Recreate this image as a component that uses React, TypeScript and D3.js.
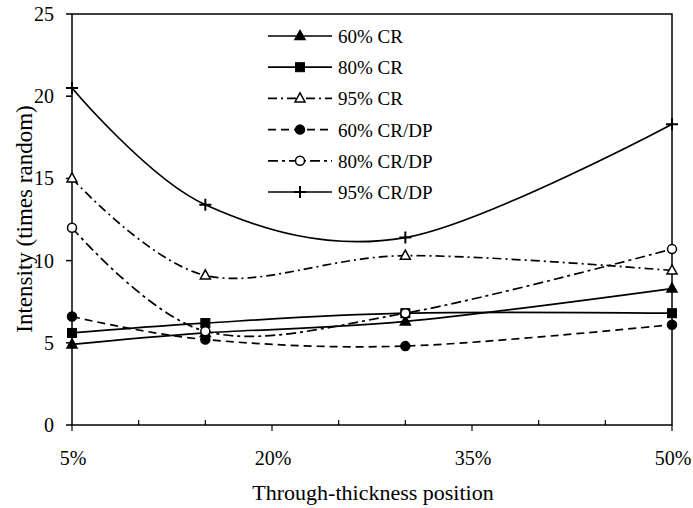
import React, { useEffect, useRef } from "react";
import * as d3 from "d3";

const positions = [5, 15, 30, 50];
const seriesNames = ["60% CR", "80% CR", "95% CR", "60% CR/DP", "80% CR/DP", "95% CR/DP"];
const cr60 = [4.9, 5.6, 6.3, 8.3];
const cr80 = [5.6, 6.2, 6.8, 6.8];
const cr95 = [15.0, 9.1, 10.3, 9.4];
const crdp60 = [6.6, 5.2, 4.8, 6.1];
const crdp80 = [12.0, 5.7, 6.8, 10.7];
const crdp95 = [20.5, 13.4, 11.4, 18.3];
const xTickLabels = [5, 20, 35, 50];
const yTicks = [0, 5, 10, 15, 20, 25];

const allValues = [cr60, cr80, cr95, crdp60, crdp80, crdp95];
// line + marker style per series
const styles = [
  { dash: null, marker: "triangle", fill: "#000" },
  { dash: null, marker: "square", fill: "#000" },
  { dash: "9,4,2,4", marker: "triangle", fill: "#fff" },
  { dash: "8,5", marker: "circle", fill: "#000" },
  { dash: "10,4,3,4", marker: "circle", fill: "#fff" },
  { dash: null, marker: "plus", fill: "none" },
];

function drawMarker(g: any, type: string, fill: string, x: number, y: number) {
  if (type === "triangle") {
    g.append("path")
      .attr("d", `M${x},${y - 5.5}L${x + 5},${y + 3.5}L${x - 5},${y + 3.5}Z`)
      .attr("fill", fill)
      .attr("stroke", "#000")
      .attr("stroke-width", 1.5);
  } else if (type === "square") {
    g.append("rect")
      .attr("x", x - 4.5)
      .attr("y", y - 4.5)
      .attr("width", 9)
      .attr("height", 9)
      .attr("fill", fill)
      .attr("stroke", "#000");
  } else if (type === "circle") {
    g.append("circle")
      .attr("cx", x)
      .attr("cy", y)
      .attr("r", 4.5)
      .attr("fill", fill)
      .attr("stroke", "#000")
      .attr("stroke-width", 1.5);
  } else {
    g.append("path")
      .attr("d", `M${x - 6},${y}H${x + 6}M${x},${y - 6}V${y + 6}`)
      .attr("stroke", "#000")
      .attr("stroke-width", 2);
  }
}

export default function App() {
  const ref = useRef<SVGSVGElement>(null);

  useEffect(() => {
    const svg = d3.select(ref.current);
    svg.selectAll("*").remove();

    const x = d3.scaleLinear().domain([5, 50]).range([72, 672]);
    const y = d3.scaleLinear().domain([0, 25]).range([425, 14]);
    const font = "'Liberation Serif', 'Times New Roman', serif";

    // frame
    svg.append("rect")
      .attr("x", 72)
      .attr("y", 14)
      .attr("width", 600)
      .attr("height", 411)
      .attr("fill", "none")
      .attr("stroke", "#000")
      .attr("stroke-width", 1.5);

    // y axis ticks and labels
    yTicks.forEach((t) => {
      svg.append("line")
        .attr("x1", 66).attr("x2", 72)
        .attr("y1", y(t)).attr("y2", y(t))
        .attr("stroke", "#000").attr("stroke-width", 1.5);
      svg.append("text")
        .attr("x", 54)
        .attr("y", y(t) + 7)
        .attr("text-anchor", "end")
        .style("font-family", font)
        .style("font-size", "20px")
        .text(t);
    });

    // x axis: minor ticks every 5%, labelled ticks extend down
    d3.range(5, 51, 5).forEach((t) => {
      const major = xTickLabels.includes(t);
      svg.append("line")
        .attr("x1", x(t)).attr("x2", x(t))
        .attr("y1", major ? 431 : 420).attr("y2", 425)
        .attr("stroke", "#000").attr("stroke-width", 1.2);
    });
    xTickLabels.forEach((t) => {
      svg.append("text")
        .attr("x", x(t) + 1)
        .attr("y", 465)
        .attr("text-anchor", "middle")
        .style("font-family", font)
        .style("font-size", "20px")
        .text(t + "%");
    });

    svg.append("text")
      .attr("x", 373)
      .attr("y", 500)
      .attr("text-anchor", "middle")
      .style("font-family", font)
      .style("font-size", "22px")
      .text("Through-thickness position");

    svg.append("text")
      .attr("transform", "translate(32,219) rotate(-90)")
      .attr("text-anchor", "middle")
      .style("font-family", font)
      .style("font-size", "23px")
      .text("Intensity (times random)");

    const line = d3.line<number>()
      .x((d, i) => x(positions[i]))
      .y((d) => y(d))
      .curve(d3.curveCardinal.tension(0));

    allValues.forEach((vals, k) => {
      const st = styles[k];
      svg.append("path")
        .attr("d", line(vals))
        .attr("fill", "none")
        .attr("stroke", "#000")
        .attr("stroke-width", 1.7)
        .attr("stroke-dasharray", st.dash);
    });
    allValues.forEach((vals, k) => {
      const st = styles[k];
      const g = svg.append("g");
      vals.forEach((v, i) => drawMarker(g, st.marker, st.fill, x(positions[i]), y(v)));
    });

    // legend
    seriesNames.forEach((name, k) => {
      const st = styles[k];
      const ly = 36 + k * 31.2;
      const g = svg.append("g");
      g.append("line")
        .attr("x1", 268).attr("x2", 332)
        .attr("y1", ly).attr("y2", ly)
        .attr("stroke", "#000")
        .attr("stroke-width", 1.7)
        .attr("stroke-dasharray", st.dash);
      drawMarker(g, st.marker, st.fill, 300, ly);
      g.append("text")
        .attr("x", 338)
        .attr("y", ly + 7)
        .style("font-family", font)
        .style("font-size", "19px")
        .text(name);
    });
  }, []);

  return (
    <svg
      ref={ref}
      width={693}
      height={508}
      style={{ position: "absolute", left: 0, top: 0, background: "#fff" }}
    />
  );
}
